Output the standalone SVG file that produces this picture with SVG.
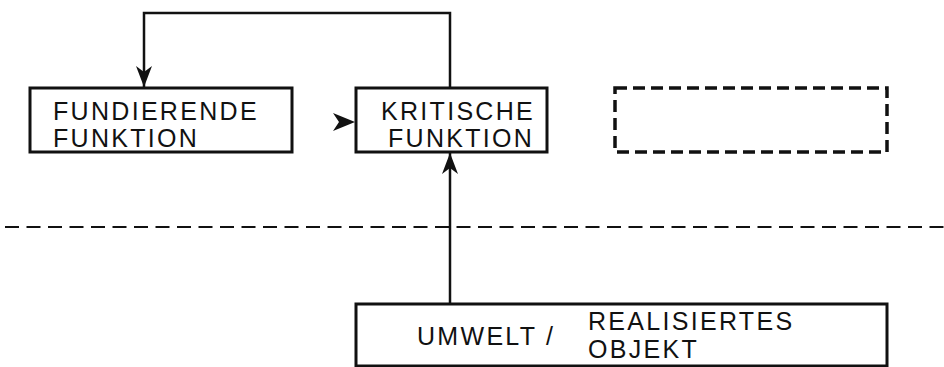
<svg xmlns="http://www.w3.org/2000/svg" width="944" height="367" viewBox="0 0 944 367">
  <style>
    .box { fill: none; stroke: #111; stroke-width: 3; }
    .dashbox { fill: none; stroke: #111; stroke-width: 3.5; stroke-dasharray: 12 6; }
    .conn { fill: none; stroke: #111; stroke-width: 2.5; }
    .sep { fill: none; stroke: #111; stroke-width: 2; stroke-dasharray: 14 7.5; }
    .lbl { font-family: "Liberation Sans", Arial, sans-serif; font-size: 25px; letter-spacing: 2.3px; fill: #111; }
  </style>
  <defs>
    <marker id="arr" viewBox="-22 -9 24 18" refX="0" refY="0" markerWidth="24" markerHeight="18" markerUnits="userSpaceOnUse" orient="auto">
      <path d="M0,0 L-21,-8 L-15,0 L-21,8 Z" fill="#111"/>
    </marker>
  </defs>
  <rect width="944" height="367" fill="#fff"/>

  <line class="sep" x1="5" y1="227" x2="944" y2="227"/>

  <g id="connectors">
    <path class="conn" d="M450,88 L450,13 L144,13 L144,87" marker-end="url(#arr)"/>
    <path class="conn" d="M450,304 L450,153" marker-end="url(#arr)"/>
    <path d="M355,122 L333,113 L339,122 L333,131 Z" fill="#111"/>
  </g>

  <g id="fundierende">
    <rect class="box" x="30" y="88" width="262" height="64"/>
    <text class="lbl" x="53" y="120">FUNDIERENDE</text>
    <text class="lbl" x="53" y="147">FUNKTION</text>
  </g>

  <g id="kritische">
    <rect class="box" x="356" y="88" width="191" height="64"/>
    <text class="lbl" x="381" y="120">KRITISCHE</text>
    <text class="lbl" x="388" y="147">FUNKTION</text>
  </g>

  <g id="leer">
    <rect class="dashbox" x="615" y="88" width="272" height="64"/>
  </g>

  <g id="umwelt">
    <rect class="box" x="356" y="304" width="531" height="62"/>
    <text class="lbl" x="417" y="345">UMWELT /</text>
    <text class="lbl" x="588" y="330">REALISIERTES</text>
    <text class="lbl" x="588" y="358">OBJEKT</text>
  </g>
</svg>
